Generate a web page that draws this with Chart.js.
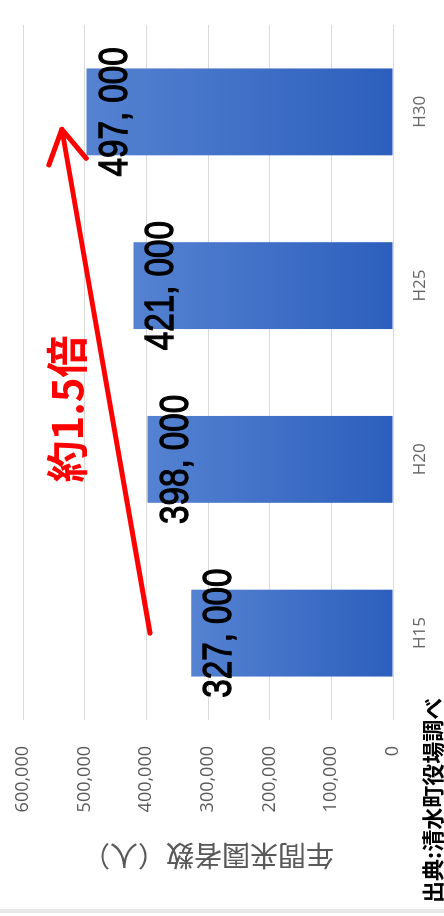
<!DOCTYPE html>
<html lang="ja">
<head>
<meta charset="utf-8">
<title>年間来園者数</title>
<script src="https://cdn.jsdelivr.net/npm/chart.js@4.4.1/dist/chart.umd.min.js"></script>
<style>
  html, body { margin: 0; padding: 0; background: #fff; overflow: hidden; }
  /* the chart is drawn upright, then turned a quarter turn to the left */
  #stage {
    position: absolute; left: 0; top: 0;
    width: 916px; height: 444px;
    transform-origin: 0 0;
    transform: translateY(916px) rotate(-90deg);
  }
</style>
</head>
<body>
<div id="stage"><canvas id="visitorsChart" width="916" height="444"></canvas></div>
<script>
// ── data ─────────────────────────────────────────────────────────────────────
const years      = ['H15', 'H20', 'H25', 'H30'];
const visitors   = [327000, 398000, 421000, 497000];
const valueTicks = [0, 100000, 200000, 300000, 400000, 500000, 600000];

const AXIS_TITLE  = '年間来園者数（人）';
const SOURCE_NOTE = '出典:清水町役場調べ';
const GROWTH_NOTE = '約1.5倍';

// arrow runs from the H15 bar up to the H30 bar (category index, value)
const arrowFrom = [0, 394000];
const arrowTo   = [2.9, 537000];
const noteAt    = [1.29, 529000];

const GRID_COLOR = '#d9d9d9';
const TICK_COLOR = '#595959';
const RED        = '#ff0000';

// value labels, drawn narrow and heavy like the original
const barLabels = {
  id: 'barLabels',
  afterDatasetsDraw(chart) {
    const { ctx } = chart;
    const meta = chart.getDatasetMeta(0);
    ctx.save();
    ctx.fillStyle = '#000';
    ctx.strokeStyle = '#000';
    ctx.lineWidth = 1.3;
    ctx.font = '41px "Liberation Sans", Arial, sans-serif';
    ctx.textAlign = 'center';
    ctx.textBaseline = 'alphabetic';
    meta.data.forEach((bar, i) => {
      const text = visitors[i].toLocaleString('en-US').replace(',', ', ');
      ctx.save();
      ctx.translate(bar.x, bar.y + 40);
      ctx.scale(0.81, 1);
      ctx.fillText(text, 0, 0);
      ctx.strokeText(text, 0, 0);
      ctx.restore();
    });
    ctx.restore();
  }
};

// red growth arrow, its note, the source line and the frame edge
const annotations = {
  id: 'annotations',
  beforeDraw(chart) {
    const { ctx, height } = chart;
    ctx.save();
    ctx.fillStyle = '#e9e9e9';
    ctx.fillRect(3, 0, 4, height);
    ctx.restore();
  },
  afterDraw(chart) {
    const { ctx, scales: { x, y } } = chart;
    const x0 = x.getPixelForValue(arrowFrom[0]), y0 = y.getPixelForValue(arrowFrom[1]);
    const x1 = x.getPixelForValue(arrowTo[0]),   y1 = y.getPixelForValue(arrowTo[1]);
    const ang = Math.atan2(y1 - y0, x1 - x0);
    const head = 38, spread = Math.PI / 6;

    ctx.save();
    ctx.strokeStyle = RED;
    ctx.lineWidth = 5;
    ctx.lineCap = 'round';
    ctx.lineJoin = 'round';
    ctx.beginPath();
    ctx.moveTo(x0, y0);
    ctx.lineTo(x1, y1);
    ctx.moveTo(x1 - head * Math.cos(ang - spread), y1 - head * Math.sin(ang - spread));
    ctx.lineTo(x1, y1);
    ctx.lineTo(x1 - head * Math.cos(ang + spread), y1 - head * Math.sin(ang + spread));
    ctx.stroke();

    ctx.fillStyle = RED;
    ctx.font = 'bold 42px "Noto Sans CJK JP", sans-serif';
    ctx.textAlign = 'center';
    ctx.textBaseline = 'middle';
    ctx.fillText(GROWTH_NOTE, x.getPixelForValue(noteAt[0]), y.getPixelForValue(noteAt[1]));

    ctx.fillStyle = '#000';
    ctx.font = 'bold 22px "Noto Sans CJK JP", sans-serif';
    ctx.textAlign = 'left';
    ctx.fillText(SOURCE_NOTE, 13, 433);
    ctx.restore();
  }
};

function barGradient(context) {
  const { chart, dataIndex } = context;
  const { chartArea, scales } = chart;
  if (!chartArea) return '#3d6cc6';
  const top = scales.y.getPixelForValue(visitors[dataIndex]);
  const g = chart.ctx.createLinearGradient(0, top, 0, chartArea.bottom);
  g.addColorStop(0, '#5582d1');
  g.addColorStop(1, '#2c5fbd');
  return g;
}

new Chart(document.getElementById('visitorsChart'), {
  type: 'bar',
  data: {
    labels: years,
    datasets: [{
      data: visitors,
      backgroundColor: barGradient,
      borderWidth: 0,
      categoryPercentage: 1,
      barPercentage: 0.5,
    }],
  },
  options: {
    responsive: false,
    animation: false,
    layout: { padding: { top: 23, right: 25, bottom: 0, left: 0 } },
    plugins: {
      legend:  { display: false },
      tooltip: { enabled: false },
    },
    scales: {
      x: {
        grid:   { display: false, drawTicks: false },
        border: { display: false },
        ticks:  { color: '#666', padding: 17, font: { family: '"Open Sans", sans-serif', size: 17 } },
        afterFit: s => { s.height = 51; },
      },
      y: {
        min: valueTicks[0],
        max: valueTicks[valueTicks.length - 1],
        afterBuildTicks: s => { s.ticks = valueTicks.map(v => ({ value: v })); },
        grid:   { color: GRID_COLOR, drawTicks: false },
        border: { display: false },
        ticks: {
          color: TICK_COLOR,
          padding: 26,
          font: { family: '"Open Sans", sans-serif', size: 18 },
          callback: v => v.toLocaleString('en-US'),
        },
        title: {
          display: true,
          text: AXIS_TITLE,
          color: TICK_COLOR,
          padding: { top: 44, bottom: 0 },
          font: { family: '"Noto Sans CJK JP", sans-serif', size: 28 },
        },
        afterFit: s => { s.width = 196; s.paddingTop = 0; s.paddingBottom = 0; },
      },
    },
  },
  plugins: [barLabels, annotations],
});
</script>
</body>
</html>
